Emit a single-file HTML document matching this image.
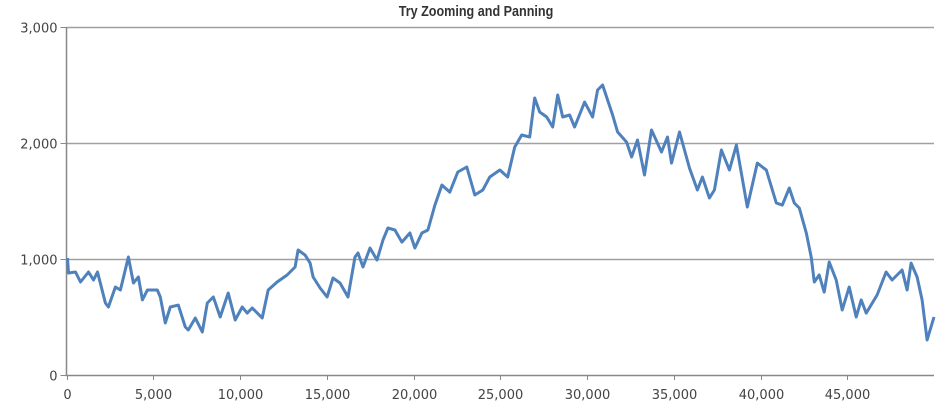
<!DOCTYPE html>
<html><head><meta charset="utf-8"><style>
html,body{margin:0;padding:0;background:#fff;}
svg{display:block;font-family:"Liberation Sans",sans-serif;}
</style></head><body>
<svg id="chart" width="946" height="409" viewBox="0 0 946 409"></svg>
<script>
const xValues=[58,115,518,806,1266,1554,1784,2244,2417,2819,3107,3567,3855,4143,4373,4661,5236,5409,5697,5985,6445,6848,7020,7423,7826,8113,8459,8861,9322,9725,10127,10415,10703,11278,11623,12141,12716,13177,13350,13752,14040,14212,14615,15018,15363,15766,16226,16629,16802,17089,17492,17895,18240,18527,18930,19333,19794,20081,20484,20829,21232,21635,22095,22555,23073,23533,23994,24396,24972,25432,25835,26238,26698,26986,27273,27676,28021,28309,28597,28999,29287,29863,30323,30611,30899,31187,31474,31762,32280,32568,32913,33316,33718,34294,34639,34869,35330,35905,36365,36653,37056,37343,37746,38207,38609,39242,39818,40336,40911,41256,41659,41947,42235,42638,42925,43098,43385,43673,43961,44364,44709,45112,45515,45802,46090,46723,47241,47586,48161,48449,48679,49025,49312,49600,50000];
const yValues=[1009,879,888,802,888,819,888,621,586,759,733,1017,793,845,647,733,733,672,448,586,603,414,388,491,371,621,672,500,707,474,586,534,578,491,733,802,862,931,1078,1034,965,845,750,672,836,793,672,1017,1052,931,1095,991,1164,1267,1250,1146,1224,1095,1224,1250,1465,1638,1577,1750,1793,1552,1595,1707,1767,1707,1965,2069,2052,2388,2267,2224,2138,2414,2224,2241,2138,2353,2224,2457,2500,2371,2241,2095,2008,1879,2026,1724,2112,1922,2052,1827,2095,1784,1595,1707,1526,1595,1940,1767,1983,1448,1827,1767,1483,1465,1612,1483,1440,1224,1017,802,862,715,974,819,560,759,500,647,534,690,888,819,905,733,965,845,647,302,500];
const xTicks=[0,5000,10000,15000,20000,25000,30000,35000,40000,45000];
const xTickLabels=["0","5,000","10,000","15,000","20,000","25,000","30,000","35,000","40,000","45,000"];
const yTicks=[0,1000,2000,3000];
const yTickLabels=["0","1,000","2,000","3,000"];

const NS="http://www.w3.org/2000/svg";
const svg=document.getElementById('chart');
const L=66.5,R=934,T=27,B=375,XMAX=50000,YMAX=3000;
const sx=v=>L+(v/XMAX)*(R-L);
const sy=v=>B-(v/YMAX)*(B-T);
function mk(tag,attrs,parent){const e=document.createElementNS(NS,tag);for(const k in attrs)e.setAttribute(k,attrs[k]);(parent||svg).appendChild(e);return e;}

const title=mk('text',{x:0,y:16,'text-anchor':'middle','font-size':'15','font-weight':'bold',fill:'#333',transform:'translate(476,0) scale(0.84,1)'});


title.textContent='Try Zooming and Panning';

yTicks.forEach((t,i)=>{
  const y=Math.round(sy(t))+0.5;
  if(t>0){const g=mk('line',{x1:L,x2:R,y1:y,y2:y,stroke:'#a0a0a0','stroke-width':1.5});
  
  }
  const tk=mk('line',{x1:L-6,x2:L,y1:y,y2:y,stroke:'#888','stroke-width':1});
  
  
  const lb=mk('text',{x:L-9,y:y+5,'text-anchor':'end','font-size':'13','font-family':'DejaVu Sans, sans-serif',fill:'#444'});
  
  
  lb.textContent=yTickLabels[i];
});
xTicks.forEach((t,i)=>{
  const x=Math.round(sx(t))+0.5;
  const tk=mk('line',{x1:x,x2:x,y1:B,y2:B+5,stroke:'#888','stroke-width':1});
  
  
  const lb=mk('text',{x:x,y:B+24,'text-anchor':'middle','font-size':'13','font-family':'DejaVu Sans, sans-serif',fill:'#444'});
  
  
  lb.textContent=xTickLabels[i];
});
const ya=mk('line',{x1:L,x2:L,y1:T,y2:B+1,stroke:'#888','stroke-width':1.5});


const xa=mk('line',{x1:L-1,x2:R,y1:B+0.5,y2:B+0.5,stroke:'#888','stroke-width':1.5});



let d='';
xValues.forEach((x,i)=>{d+=(i?'L':'M')+sx(x).toFixed(1)+','+sy(yValues[i]).toFixed(1);});
const line=mk('path',{d:d,fill:'none',stroke:'#4f81bc','stroke-width':3,'stroke-linejoin':'round'});


</script>
</body></html>
